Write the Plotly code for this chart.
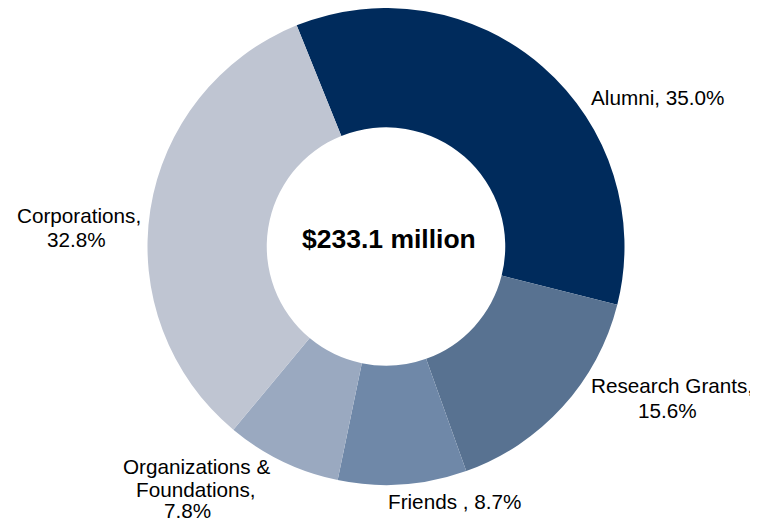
import plotly.graph_objects as go

# The page adds an 8px body margin, so the figure is drawn 8px smaller and
# every position below is given in page pixels and shifted by that offset.
OFF = 8
W, H = 758 - OFF, 523 - OFF

categories = ["Alumni", "Research Grants", "Friends", "Organizations & Foundations", "Corporations"]
values = [35.0, 15.6, 8.7, 7.8, 32.8]
label_lines = [["Alumni, 35.0%"],
               ["Research Grants,", "15.6%"],
               ["Friends , 8.7%"],
               ["Organizations &", "Foundations,", "7.8%"],
               ["Corporations,", "32.8%"]]
colors = ["#002B5C", "#587291", "#6F88A8", "#9AA9C0", "#BFC5D2"]
center_text = "$233.1 million"
# centre of each text line, page pixels
label_line_px = [[(657, 97.5)],
                 [(672, 385.5), (667, 410)],
                 [(454.5, 501.5)],
                 [(196.5, 466.5), (196, 489.5), (187.5, 510.5)],
                 [(78.5, 215.5), (76.5, 239.5)]]

FONT = "Liberation Sans, Arial, sans-serif"

def fx(px):
    return (px - OFF) / W

def fy(py):
    return 1 - (py - OFF) / H

# donut geometry (page pixels)
cx, top, bottom = 386, OFF, 485
r = (bottom - top) / 2
cy = top + r

fig = go.Figure(go.Pie(
    labels=categories,
    values=values,
    textinfo="none",
    hole=0.5,
    sort=False,
    direction="clockwise",
    rotation=-22,
    marker=dict(colors=colors, line=dict(width=0)),
    showlegend=False,
    domain=dict(x=[fx(cx - r), fx(cx + r)], y=[fy(bottom), fy(top)]),
))

for lines, positions in zip(label_lines, label_line_px):
    for txt, (px, py) in zip(lines, positions):
        fig.add_annotation(text=txt, x=fx(px), y=fy(py), xref="paper", yref="paper",
                           xanchor="center", yanchor="middle", showarrow=False,
                           font=dict(family=FONT, size=20.7, color="black"))

fig.add_annotation(text="<b>" + center_text + "</b>", x=fx(389), y=fy(238.5),
                   xref="paper", yref="paper", xanchor="center", yanchor="middle",
                   showarrow=False, font=dict(family=FONT, size=26.5, color="black"))

fig.update_layout(
    width=W, height=H,
    margin=dict(l=0, r=0, t=0, b=0),
    paper_bgcolor="white", plot_bgcolor="white",
)

fig.write_html("out.html")
